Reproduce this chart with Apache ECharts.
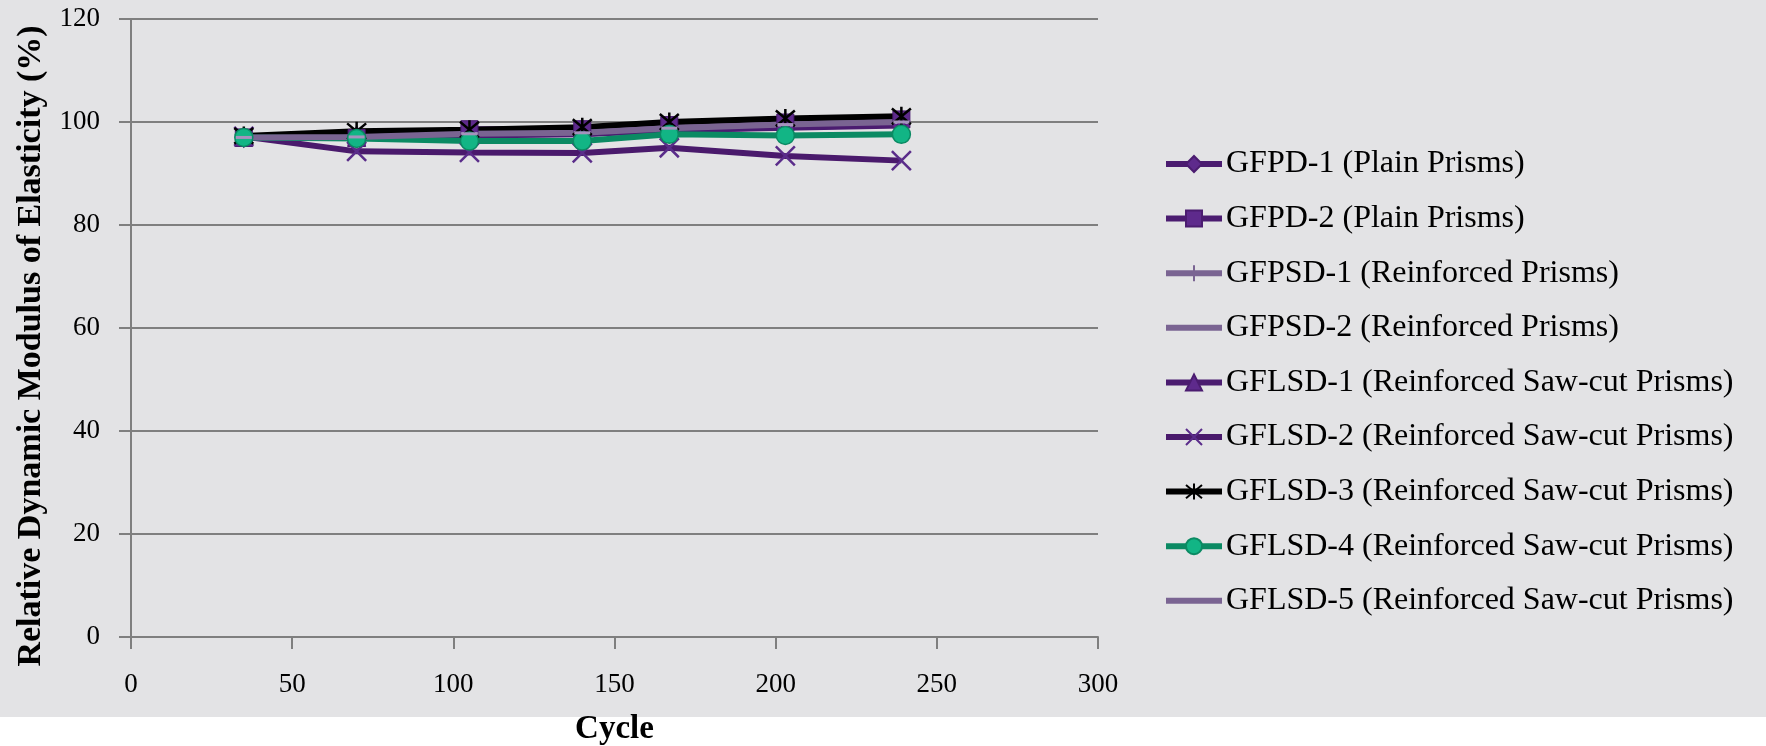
<!DOCTYPE html>
<html>
<head>
<meta charset="utf-8">
<script src="https://cdn.jsdelivr.net/npm/echarts@6/dist/echarts.min.js"></script>
<style>
  html, body { margin: 0; padding: 0; background: #ffffff; }
  #chart { width: 1766px; height: 746px; }
</style>
</head>
<body>
<div id="chart"></div>
<script>
// cycles (x values)
const cycles = [35, 70, 105, 140, 167, 203, 239];

// relative dynamic modulus (%) per specimen
const gfpd1 = [97.0, 97.2, 97.5, 97.7, 98.5, 99.0, 99.5];
const gfpd2 = [97.0, 96.9, 98.6, 98.6, 99.4, 99.9, 100.5];
const gfpsd1 = [97.1, 97.4, 97.8, 98.0, 99.0, 99.6, 100.1];
const gfpsd2 = [97.0, 97.2, 97.7, 97.9, 98.8, 99.4, 99.9];
const gflsd1 = [97.0, 97.0, 97.4, 97.6, 98.4, 98.9, 99.3];
const gflsd2 = [97.2, 94.3, 94.1, 94.0, 95.0, 93.4, 92.5];
const gflsd3 = [97.3, 98.2, 98.5, 99.0, 100.0, 100.7, 101.1];
const gflsd4 = [97.0, 96.8, 96.3, 96.3, 97.6, 97.4, 97.6];
const gflsd5 = [97.0, 97.1, 97.7, 97.9, 98.8, 99.5, 100.0];

const yTicks = [0, 20, 40, 60, 80, 100, 120];
const xTicks = [0, 50, 100, 150, 200, 250, 300];

const FONT = 'Liberation Serif';
const pts = arr => cycles.map((c, i) => [c, arr[i]]);

const X_PATH = 'path://M0,0 L10,10 M10,0 L0,10';
const PLUS_PATH = 'path://M5,0 L5,10 M0,5 L10,5';
const STAR_PATH = 'path://M0,0 L10,10 M10,0 L0,10 M5,-1 L5,11';
// legend icon for the dash-marker series: just the thick line
const BAR_ICON = 'path://M0,0 L56,0 L56,6 L0,6 Z';

function line(name, data, color, symbol, size, itemStyle) {
  return {
    name: name,
    type: 'line',
    data: pts(data),
    symbol: symbol,
    symbolSize: size,
    lineStyle: { color: color, width: 6 },
    itemStyle: itemStyle,
    animation: false
  };
}

const chart = echarts.init(document.getElementById('chart'));
chart.setOption({
  backgroundColor: '#ffffff',
  graphic: [{
    type: 'rect',
    shape: { x: 0, y: 0, width: 1766, height: 717 },
    style: { fill: '#e3e3e5' },
    z: -10
  }],
  grid: { left: 131, right: 668, top: 19, bottom: 109, outerBoundsMode: 'none' },
  xAxis: {
    type: 'value',
    min: 0, max: 300, interval: 50,
    name: 'Cycle',
    nameLocation: 'middle',
    nameGap: 76,
    nameTextStyle: { fontFamily: FONT, fontWeight: 'bold', fontSize: 33, color: '#000' },
    axisLine: { lineStyle: { color: '#7f7f7f', width: 2 } },
    axisTick: { show: true, length: 12, lineStyle: { color: '#7f7f7f', width: 2 } },
    axisLabel: {
      fontFamily: FONT, fontSize: 27, color: '#000', margin: 34,
      formatter: v => xTicks.includes(v) ? String(v) : ''
    },
    splitLine: { show: false }
  },
  yAxis: {
    type: 'value',
    min: 0, max: 120, interval: 20,
    name: 'Relative Dynamic Modulus of Elasticity (%)',
    nameLocation: 'middle',
    nameGap: 81,
    nameTextStyle: {
      fontFamily: FONT, fontWeight: 'bold', fontSize: 34, color: '#000',
      padding: [0, 36, 0, 0]
    },
    axisLine: { show: true, lineStyle: { color: '#7f7f7f', width: 2 } },
    axisTick: { show: true, length: 12, lineStyle: { color: '#7f7f7f', width: 2 } },
    axisLabel: {
      fontFamily: FONT, fontSize: 27, color: '#000', margin: 31,
      formatter: v => yTicks.includes(v) ? String(v) : ''
    },
    splitLine: { show: true, lineStyle: { color: '#7f7f7f', width: 2 } }
  },
  legend: {
    orient: 'vertical',
    left: 1163,
    top: 148,
    padding: 0,
    itemWidth: 56,
    itemHeight: 20,
    itemGap: 22.6,
    lineStyle: { width: 6 },
    textStyle: { fontFamily: FONT, fontSize: 32, color: '#000', lineHeight: 31, padding: [0, 0, 0, -1] },
    data: [
      'GFPD-1 (Plain Prisms)',
      'GFPD-2 (Plain Prisms)',
      'GFPSD-1 (Reinforced Prisms)',
      { name: 'GFPSD-2 (Reinforced Prisms)', icon: BAR_ICON, itemStyle: { color: '#7a6492' } },
      'GFLSD-1 (Reinforced Saw-cut Prisms)',
      'GFLSD-2 (Reinforced Saw-cut Prisms)',
      'GFLSD-3 (Reinforced Saw-cut Prisms)',
      'GFLSD-4 (Reinforced Saw-cut Prisms)',
      { name: 'GFLSD-5 (Reinforced Saw-cut Prisms)', icon: BAR_ICON, itemStyle: { color: '#7a6492' } }
    ]
  },
  series: [
    line('GFPD-1 (Plain Prisms)', gfpd1, '#4b1c70', 'diamond', [16, 20],
      { color: '#5e2a8c', borderColor: '#4b1c70', borderWidth: 1 }),
    line('GFPD-2 (Plain Prisms)', gfpd2, '#4b1c70', 'rect', 17,
      { color: '#5e2a8c', borderColor: '#4b1c70', borderWidth: 1 }),
    line('GFPSD-1 (Reinforced Prisms)', gfpsd1, '#7a6492', PLUS_PATH, 18,
      { color: 'transparent', borderColor: '#7a6492', borderWidth: 2 }),
    line('GFPSD-2 (Reinforced Prisms)', gfpsd2, '#7a6492', 'rect', [16, 3],
      { color: '#a592bd', borderWidth: 0 }),
    line('GFLSD-1 (Reinforced Saw-cut Prisms)', gflsd1, '#4b1c70', 'triangle', 18,
      { color: '#5e2a8c', borderColor: '#4b1c70', borderWidth: 1 }),
    line('GFLSD-2 (Reinforced Saw-cut Prisms)', gflsd2, '#4a1a6c', X_PATH, 19,
      { color: 'transparent', borderColor: '#5a2c8a', borderWidth: 2.5 }),
    line('GFLSD-3 (Reinforced Saw-cut Prisms)', gflsd3, '#000000', STAR_PATH, 19,
      { color: 'transparent', borderColor: '#000000', borderWidth: 2.5 }),
    line('GFLSD-4 (Reinforced Saw-cut Prisms)', gflsd4, '#0b8a63', 'circle', 18,
      { color: '#12b585', borderColor: '#0b8a63', borderWidth: 1.5 }),
    line('GFLSD-5 (Reinforced Saw-cut Prisms)', gflsd5, '#7a6492', 'rect', [16, 3],
      { color: '#a592bd', borderWidth: 0 })
  ]
});
</script>
</body>
</html>
